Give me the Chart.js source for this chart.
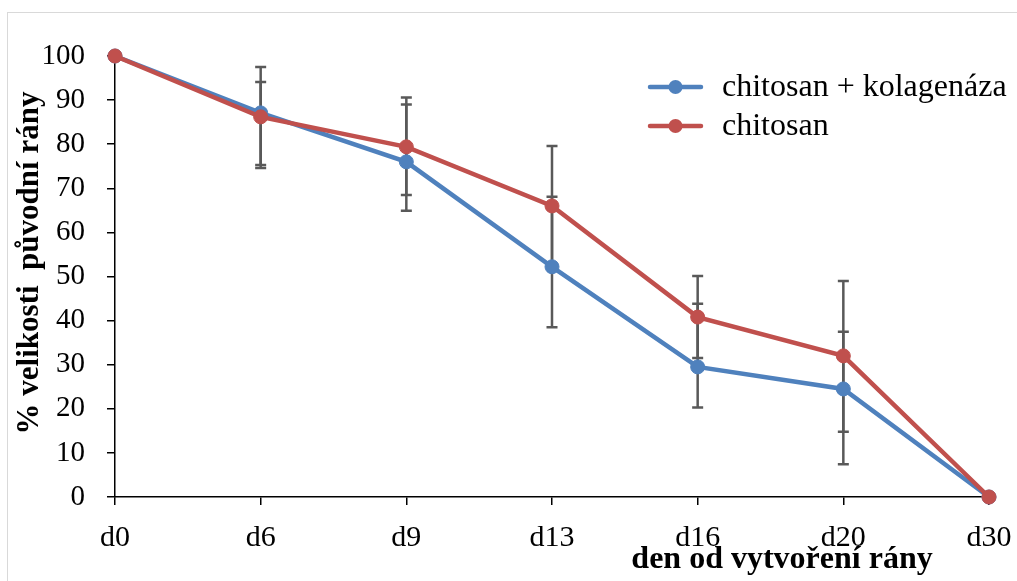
<!DOCTYPE html>
<html>
<head>
<meta charset="utf-8">
<script src="https://cdn.jsdelivr.net/npm/chart.js@4"></script>
<style>
  body { margin: 0; background: #fff; overflow: hidden; }
  #wrap { position: relative; width: 1017px; height: 581px; }
  #frame { position: absolute; left: 7px; top: 12px; width: 1100px; height: 700px;
           border-left: 1.5px solid #d9d9d9; border-top: 1.5px solid #d9d9d9; pointer-events: none; }
  canvas { position: absolute; left: 0; top: 0; }
</style>
</head>
<body>
<div id="wrap">
  <canvas id="woundChart" width="1017" height="581"></canvas>
  <div id="frame"></div>
</div>
<script>
const days = ["d0", "d6", "d9", "d13", "d16", "d20", "d30"];

const blueName = "chitosan + kolagenáza";
const blueValues = [100, 87.1, 76.0, 52.2, 29.5, 24.5, 0];
const blueHi = [null, 94.1, 89.0, 68.1, 43.8, 37.5, null];
const blueLo = [null, 75.3, 64.9, 38.5, 20.3, 7.4, null];

const redName = "chitosan";
const redValues = [100, 86.2, 79.4, 66.0, 40.8, 32.0, 0];
const redHi = [null, 97.5, 90.6, 79.6, 50.1, 49.0, null];
const redLo = [null, 74.6, 68.5, 52.4, 31.5, 14.8, null];

const blue = "#4f81bd";
const red = "#c0504d";
const serif = "'Liberation Serif', 'Times New Roman', serif";

// error bars, drawn under the lines and markers
const errorBars = {
    id: 'errorBars',
    beforeDatasetsDraw(chart) {
        const ctx = chart.ctx;
        const x = chart.scales.x;
        const y = chart.scales.y;
        const sets = [[blueHi, blueLo], [redHi, redLo]];
        ctx.save();
        ctx.strokeStyle = "#595959";
        ctx.lineWidth = 2.5;
        sets.forEach(function(s) {
            const hi = s[0], lo = s[1];
            for (let i = 0; i < days.length; i++) {
                if (hi[i] == null) continue;
                const px = x.getPixelForValue(i);
                const yt = y.getPixelForValue(hi[i]);
                const yb = y.getPixelForValue(lo[i]);
                ctx.beginPath();
                ctx.moveTo(px, yt); ctx.lineTo(px, yb);
                ctx.moveTo(px - 5.5, yt); ctx.lineTo(px + 5.5, yt);
                ctx.moveTo(px - 5.5, yb); ctx.lineTo(px + 5.5, yb);
                ctx.stroke();
            }
        });
        ctx.restore();
    }
};

// legend in the top right corner and the two axis titles
const extras = {
    id: 'extras',
    afterDraw(chart) {
        const ctx = chart.ctx;
        ctx.save();
        const items = [[blueName, blue, 87], [redName, red, 126]];
        items.forEach(function(it) {
            ctx.strokeStyle = it[1];
            ctx.fillStyle = it[1];
            ctx.lineWidth = 4.5;
            ctx.lineCap = "round";
            ctx.beginPath();
            ctx.moveTo(650, it[2]); ctx.lineTo(701, it[2]);
            ctx.stroke();
            ctx.beginPath();
            ctx.arc(675.5, it[2], 7, 0, Math.PI * 2);
            ctx.fill();
            ctx.fillStyle = "#000";
            ctx.font = "32px " + serif;
            ctx.textBaseline = "middle";
            ctx.textAlign = "left";
            ctx.fillText(it[0], 722, it[2] + 1);
        });
        ctx.fillStyle = "#000";
        ctx.font = "bold 32px " + serif;
        ctx.textAlign = "center";
        ctx.textBaseline = "alphabetic";
        ctx.fillText("den od vytvoření rány", 782, 568);

        ctx.translate(30, 263);
        ctx.rotate(-Math.PI / 2);
        ctx.font = "bold 31px " + serif;
        ctx.textBaseline = "middle";
        ctx.fillText("% velikosti  původní rány", 0, 0);
        ctx.restore();
    }
};

document.addEventListener("DOMContentLoaded", function() {
    const ctx = document.getElementById('woundChart').getContext('2d');

    new Chart(ctx, {
        type: 'line',
        data: {
            labels: days,
            datasets: [{
                label: blueName,
                data: blueValues,
                borderColor: blue,
                backgroundColor: blue,
                borderWidth: 4.5,
                pointRadius: 7,
                pointBorderWidth: 1,
                tension: 0,
                clip: false,
                order: 2
            }, {
                label: redName,
                data: redValues,
                borderColor: red,
                backgroundColor: red,
                borderWidth: 4.5,
                pointRadius: 7,
                pointBorderWidth: 1,
                tension: 0,
                clip: false,
                order: 1
            }]
        },
        options: {
            responsive: false,
            animation: false,
            layout: { padding: { top: 56, right: 28, left: 0, bottom: 0 } },
            plugins: {
                legend: { display: false },
                tooltip: { enabled: false }
            },
            scales: {
                x: {
                    offset: false,
                    grid: { drawOnChartArea: false, drawTicks: true, tickLength: 8, color: "#000", lineWidth: 1.5 },
                    border: { color: "#000", width: 1.5 },
                    ticks: { color: "#000", font: { family: serif, size: 30 }, padding: 15, maxRotation: 0 },
                    afterFit: function(s) {
                        s.height = 84;
                        s.paddingLeft = 0;
                        s.paddingRight = 0;
                    }
                },
                y: {
                    min: 0,
                    max: 100,
                    grid: { drawOnChartArea: false, drawTicks: true, tickLength: 8, color: "#000", lineWidth: 1.5 },
                    border: { color: "#000", width: 1.5 },
                    ticks: { stepSize: 10, color: "#000", font: { family: serif, size: 29 }, padding: 22 },
                    afterFit: function(s) { s.width = 115; }
                }
            }
        },
        plugins: [errorBars, extras]
    });
});
</script>
</body>
</html>
